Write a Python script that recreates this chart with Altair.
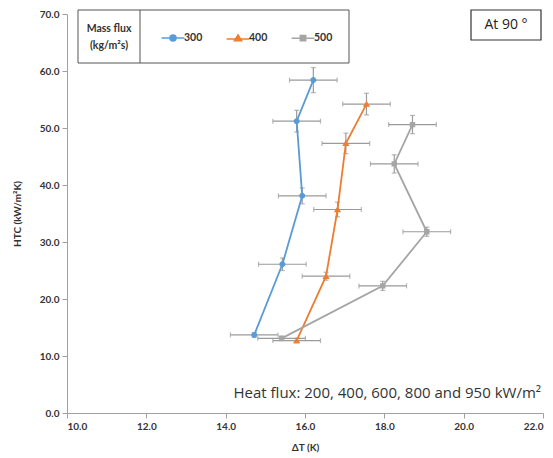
import altair as alt
import pandas as pd

series = ["300", "400", "500"]
dt_300 = [14.72, 15.43, 15.93, 15.79, 16.21]
htc_300 = [13.7, 26.1, 38.1, 51.2, 58.4]
dt_400 = [15.79, 16.53, 16.82, 17.03, 17.55]
htc_400 = [12.7, 24.0, 35.7, 47.3, 54.2]
dt_500 = [15.41, 17.96, 19.07, 18.25, 18.71]
htc_500 = [13.1, 22.3, 31.8, 43.7, 50.6]
xerr_300 = [0.6, 0.6, 0.6, 0.6, 0.6]
xerr_400 = [0.6, 0.6, 0.6, 0.6, 0.6]
xerr_500 = [0.6, 0.6, 0.6, 0.6, 0.6]
yerr_300 = [0.4, 1.1, 1.4, 1.9, 2.2]
yerr_400 = [0.4, 0.7, 1.3, 1.8, 1.9]
yerr_500 = [0.4, 0.8, 0.8, 1.6, 1.6]
colors = ["#5B9BD5", "#ED7D31", "#A5A5A5"]
legend_title = ["Mass flux", "(kg/m²s)"]
angle_label = ["At 90 °"]
heat_label = ["Heat flux: 200, 400, 600, 800 and 950 kW/m²"]

rows = []
for s, dts, htcs, xe, ye in [
    ("300", dt_300, htc_300, xerr_300, yerr_300),
    ("400", dt_400, htc_400, xerr_400, yerr_400),
    ("500", dt_500, htc_500, xerr_500, yerr_500),
]:
    for i, (d, h, a, b) in enumerate(zip(dts, htcs, xe, ye)):
        rows.append({"series": s, "dt": d, "htc": h, "xerr": a, "yerr": b, "order": i})
df = pd.DataFrame(rows)
one = pd.DataFrame({"angle": angle_label, "heat": heat_label,
                    "t1": [legend_title[0]], "t2": [legend_title[1]]})

FONT = "Lato"
TFONT = "Open Sans"
x_scale = alt.Scale(domain=[10, 22], nice=False, zero=False)
y_scale = alt.Scale(domain=[0, 70], nice=False)

x_enc = alt.X("dt:Q", scale=x_scale, title="ΔT (K)",
              axis=alt.Axis(values=[10, 12, 14, 16, 18, 20, 22], format=".1f", grid=False,
                            titleY=29, labelPadding=3))
y_enc = alt.Y("htc:Q", scale=y_scale, title="HTC (kW/m²K)",
              axis=alt.Axis(values=[0, 10, 20, 30, 40, 50, 60, 70], format=".1f", grid=False,
                            titleX=-45, labelPadding=3))

shape_paths = [
    "M-1.9,0H1.9M-0.5,0A0.5,0.5 0 1,1 0.5,0A0.5,0.5 0 1,1 -0.5,0Z",
    "M-1.9,0.15H1.9M0,-0.55L0.6,0.45L-0.6,0.45Z",
    "M-1.9,0H1.9M-0.45,-0.45H0.45V0.45H-0.45Z",
]

base = alt.Chart(df)
tick_style = {"size": 5, "color": "#9a9a9a", "strokeWidth": 1.2}

err_x = base.mark_errorbar(ticks=tick_style, color="#9a9a9a", thickness=1.2).encode(
    x=x_enc, xError=alt.XError("xerr:Q"), y=alt.Y("htc:Q", scale=y_scale)
)
err_y = base.mark_errorbar(ticks=tick_style, color="#9a9a9a", thickness=1.2).encode(
    y=y_enc, yError=alt.YError("yerr:Q"), x=alt.X("dt:Q", scale=x_scale)
)

color_scale = alt.Scale(domain=series, range=colors)
legend = alt.Legend(
    title=None, orient="none", legendX=99, legendY=17,
    direction="horizontal", padding=0,
    labelFont=FONT, labelFontSize=10.5, labelFontWeight="bold", labelColor="#333",
    symbolSize=144, symbolStrokeWidth=1.5, labelOffset=4, columnPadding=20,
)

lines = base.mark_line(strokeWidth=1.8).encode(
    x=alt.X("dt:Q", scale=x_scale),
    y=alt.Y("htc:Q", scale=y_scale),
    color=alt.Color("series:N", scale=color_scale, legend=legend),
    order="order:Q",
    detail="series:N",
)

points = base.mark_point(filled=True, opacity=1, strokeWidth=0).encode(
    x=alt.X("dt:Q", scale=x_scale),
    y=alt.Y("htc:Q", scale=y_scale),
    color=alt.Color("series:N", scale=color_scale, legend=legend),
    stroke=alt.Stroke("series:N", scale=color_scale, legend=legend),
    shape=alt.Shape("series:N", scale=alt.Scale(domain=series, range=shape_paths), legend=legend),
    size=alt.value(144),
)

ann = alt.Chart(one)
legend_box = ann.mark_rect(fill="white", stroke="#555", strokeWidth=1).encode(
    x=alt.value(11), x2=alt.value(282), y=alt.value(-4), y2=alt.value(49)
)
divider = ann.mark_rule(color="#555", strokeWidth=1).encode(
    x=alt.value(73), y=alt.value(-4), y2=alt.value(49)
)
title1 = ann.mark_text(font=FONT, fontSize=10.5, fontWeight="bold", color="#333",
                       align="center", baseline="middle").encode(
    x=alt.value(42), y=alt.value(15), text="t1:N"
)
title2 = ann.mark_text(font=FONT, fontSize=10.5, fontWeight="bold", color="#333",
                       align="center", baseline="middle").encode(
    x=alt.value(42), y=alt.value(32), text="t2:N"
)
angle_box = ann.mark_rect(fill="white", stroke="#333", strokeWidth=1.2).encode(
    x=alt.value(404), x2=alt.value(474), y=alt.value(-4), y2=alt.value(26)
)
angle_text = ann.mark_text(font=TFONT, fontSize=14, fontWeight="normal", color="#222",
                           align="center", baseline="middle").encode(
    x=alt.value(439), y=alt.value(11), text="angle:N"
)
heat_text = ann.mark_text(font=TFONT, fontSize=15, fontWeight="normal", color="#333",
                          align="right", baseline="middle").encode(
    x=alt.value(474), y=alt.value(379), text="heat:N"
)

chart = alt.layer(err_x, err_y, lines, points, legend_box, divider, title1, title2,
                  angle_box, angle_text, heat_text).properties(
    width=476, height=399,
    autosize=alt.AutoSizeParams(type="none"),
    padding={"left": 59, "top": 6, "right": 2, "bottom": 45},
).configure_view(stroke=None).configure_axis(
    domainColor="#a0a0a0", tickColor="#a0a0a0", tickSize=5,
    labelFont=FONT, labelFontSize=10, labelFontWeight="bold", labelColor="#333",
    titleFont=FONT, titleFontSize=10, titleFontWeight="bold", titleColor="#333",
)

chart.save("out.html", embed_options={"renderer": "svg", "actions": False})
